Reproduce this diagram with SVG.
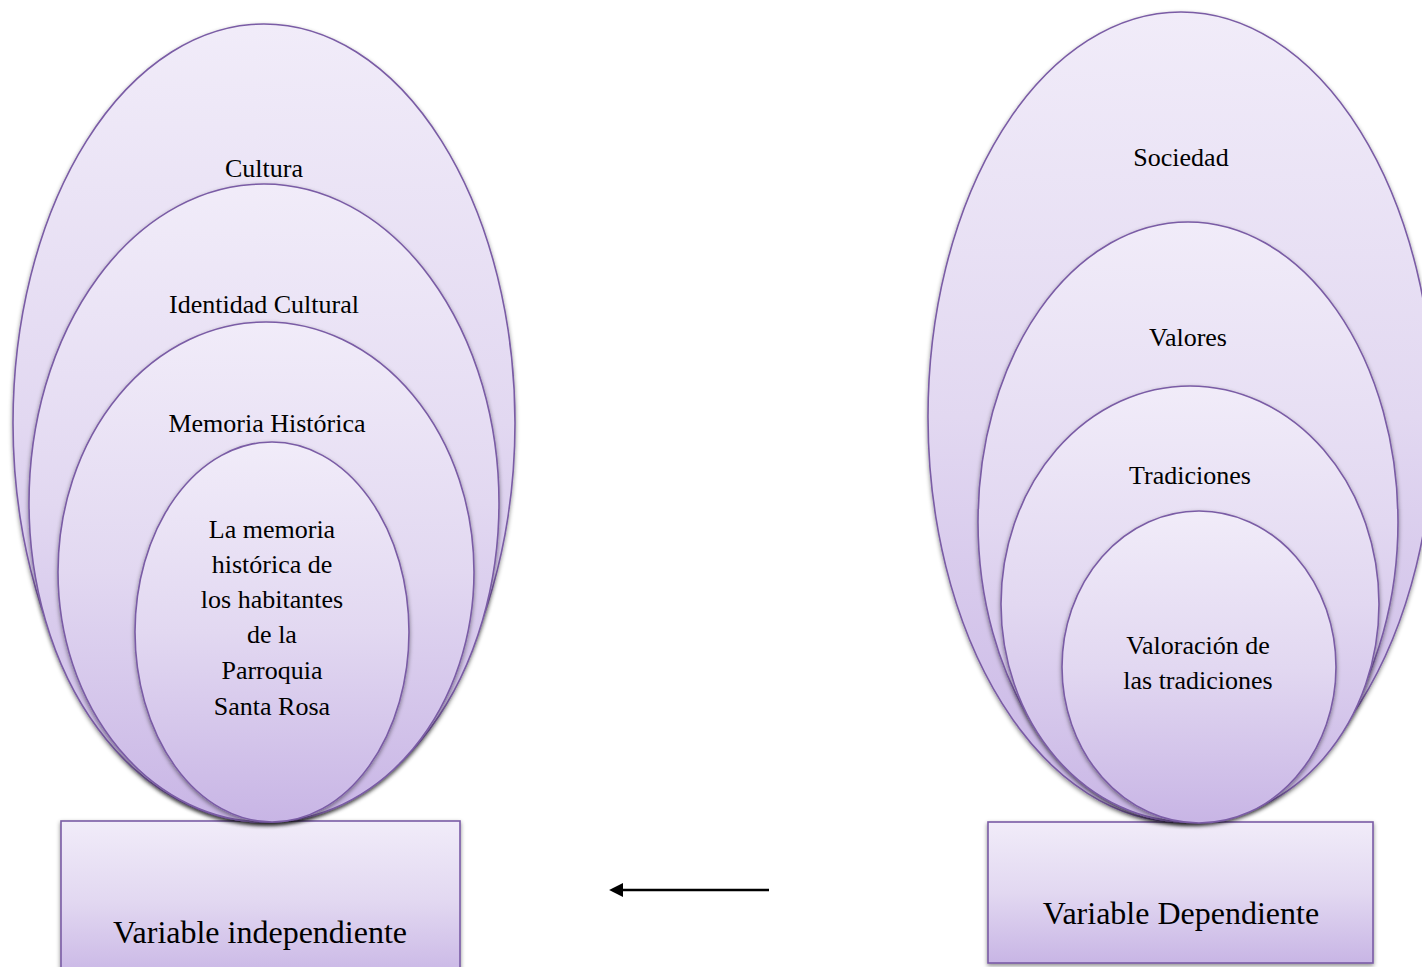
<svg xmlns="http://www.w3.org/2000/svg" width="1422" height="967" viewBox="0 0 1422 967">
<defs>
<linearGradient id="g" x1="0" y1="0" x2="0" y2="1">
<stop offset="0" stop-color="#F1ECF9"/>
<stop offset="0.5" stop-color="#E2D8F1"/>
<stop offset="1" stop-color="#C8B5E5"/>
</linearGradient>
<filter id="sh" x="-10%" y="-10%" width="120%" height="125%">
<feDropShadow dx="0" dy="2" stdDeviation="2" flood-color="#000" flood-opacity="0.45"/>
</filter>
<marker id="ah" viewBox="0 0 10 10" refX="1" refY="5" markerWidth="5.5" markerHeight="5.5" orient="auto-start-reverse" markerUnits="strokeWidth">
<path d="M0,0 L10,5 L0,10 z" fill="#000"/>
</marker>
<style>
.sh{fill:url(#g);stroke:#7A5CA5;stroke-width:1.6;filter:url(#sh)}
.t{font-family:"Liberation Serif","Times New Roman",serif;font-size:26px;fill:#000;text-anchor:middle}
.b{font-family:"Liberation Serif","Times New Roman",serif;font-size:32px;fill:#000;text-anchor:middle}
</style>
</defs>
<rect width="1422" height="967" fill="#fff"/>

<g id="box-independiente">
<rect class="sh" x="61" y="821" width="399" height="160"/>
<text class="b" x="260" y="943">Variable independiente</text>
</g>
<g id="box-dependiente">
<rect class="sh" x="988" y="822" width="385" height="141"/>
<text class="b" x="1181" y="924">Variable Dependiente</text>
</g>

<g id="cultura">
<ellipse class="sh" cx="264" cy="423" rx="251" ry="399"/>
<text class="t" x="264" y="177">Cultura</text>
</g>
<g id="identidad-cultural">
<ellipse class="sh" cx="264" cy="503" rx="235" ry="319"/>
<text class="t" x="264" y="313">Identidad Cultural</text>
</g>
<g id="memoria-historica">
<ellipse class="sh" cx="266" cy="572" rx="208" ry="250"/>
<text class="t" x="267" y="432">Memoria Histórica</text>
</g>
<g id="memoria-habitantes">
<ellipse class="sh" cx="272" cy="632" rx="137" ry="190"/>
<text class="t" x="272" y="538">La memoria</text>
<text class="t" x="272" y="573">histórica de</text>
<text class="t" x="272" y="608">los habitantes</text>
<text class="t" x="272" y="643">de la</text>
<text class="t" x="272" y="679">Parroquia</text>
<text class="t" x="272" y="715">Santa Rosa</text>
</g>

<g id="sociedad">
<ellipse class="sh" cx="1181" cy="417" rx="253" ry="405"/>
<text class="t" x="1181" y="166">Sociedad</text>
</g>
<g id="valores">
<ellipse class="sh" cx="1188" cy="522" rx="210" ry="300"/>
<text class="t" x="1188" y="346">Valores</text>
</g>
<g id="tradiciones">
<ellipse class="sh" cx="1190" cy="604" rx="189" ry="218"/>
<text class="t" x="1190" y="484">Tradiciones</text>
</g>
<g id="valoracion">
<ellipse class="sh" cx="1199" cy="667" rx="137" ry="156"/>
<text class="t" x="1198" y="654">Valoración de</text>
<text class="t" x="1198" y="689">las tradiciones</text>
</g>

<g id="connectors">
<line x1="769" y1="890" x2="622" y2="890" stroke="#000" stroke-width="2.6" marker-end="url(#ah)"/>
</g>
</svg>
